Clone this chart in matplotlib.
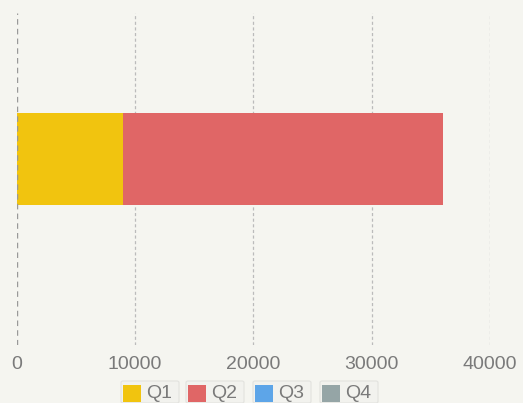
import matplotlib
matplotlib.use("Agg")
import matplotlib.pyplot as plt
from matplotlib.patches import Rectangle, FancyBboxPatch

categories = [""]
series_names = ["Q1", "Q2", "Q3", "Q4"]
series_values = {
    "Q1": [9000],
    "Q2": [27000],
    "Q3": [0],
    "Q4": [0],
}
colors = ["#F1C40F", "#E06666", "#5DA5E8", "#95A5A6"]
x_ticks = [0, 10000, 20000, 30000, 40000]

W, H = 523, 403
bg = "#F5F5F0"
fig = plt.figure(figsize=(W / 100, H / 100), dpi=100, facecolor=bg)
ax = fig.add_axes([16.5 / W, 58 / H, (490 - 16.5) / W, 332 / H])
ax.set_facecolor(bg)

left = [0] * len(categories)
for name, col in zip(series_names, colors):
    vals = series_values[name]
    ax.barh(range(len(categories)), vals, left=left, height=1.0, color=col, zorder=3)
    left = [a + b for a, b in zip(left, vals)]

ax.set_xlim(0, 40000)
ax.set_ylim(-2.02, 1.587)
ax.set_yticks([])
for s in ax.spines.values():
    s.set_visible(False)

for t in x_ticks:
    if t == 0:
        ax.axvline(t, color="#999999", lw=1.0, dashes=(4, 3), zorder=4)
    else:
        ax.axvline(t, color="#BBBBBB", lw=0.9, dashes=(2.5, 2), zorder=1)

ax.set_xticks(x_ticks)
ax.set_xticklabels([str(t) for t in x_ticks])
ax.tick_params(axis="x", length=0, pad=8, labelsize=14, labelcolor="#7A7A7A")
for lbl in ax.get_xticklabels():
    lbl.set_fontfamily("Liberation Sans")
ax.xaxis.get_ticklabels()[-1].set_horizontalalignment("center")

# legend entries drawn manually (boxed items at the bottom)
box_lefts = [121, 186, 253, 320]
box_w = 58
for bx, name, col in zip(box_lefts, series_names, colors):
    fig.patches.append(FancyBboxPatch((bx / W, (H - 403) / H), box_w / W, 22 / H,
                                      boxstyle="round,pad=0,rounding_size=0.004",
                                      transform=fig.transFigure, facecolor="#F2F2EE",
                                      edgecolor="#E2E2DE", lw=0.8, zorder=1))
    fig.patches.append(Rectangle(((bx + 1.5) / W, (H - 402) / H), 18 / W, 17 / H,
                                 transform=fig.transFigure, facecolor=col,
                                 edgecolor="none", zorder=2))
    fig.text((bx + 25) / W, (H - 393) / H, name, fontsize=14, color="#7A7A7A",
             va="center", ha="left", family="Liberation Sans")

fig.savefig("out.png", dpi=100, facecolor=bg)
